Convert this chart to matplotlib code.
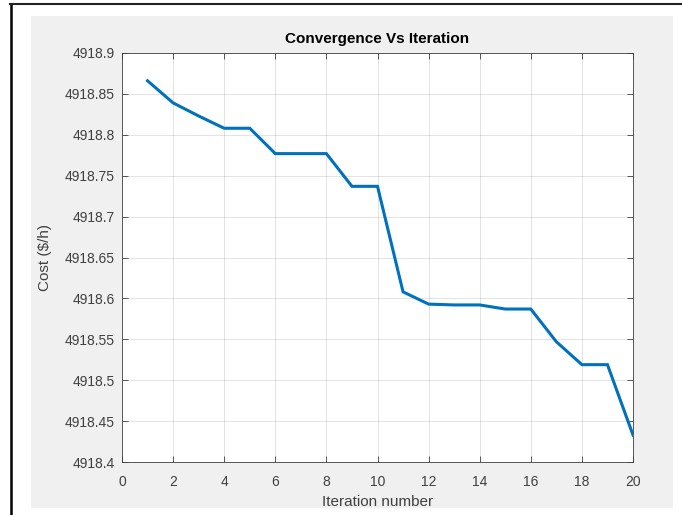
import matplotlib
matplotlib.use("Agg")
import matplotlib.pyplot as plt
from matplotlib.patches import Rectangle
from matplotlib.lines import Line2D

iterations = list(range(1, 21))
cost = [4918.866, 4918.839, 4918.823, 4918.808, 4918.808,
        4918.777, 4918.777, 4918.777, 4918.737, 4918.737,
        4918.608, 4918.593, 4918.592, 4918.592, 4918.587,
        4918.587, 4918.547, 4918.519, 4918.519, 4918.433]
xticks = [0, 2, 4, 6, 8, 10, 12, 14, 16, 18, 20]
yticks = [4918.4, 4918.45, 4918.5, 4918.55, 4918.6, 4918.65,
          4918.7, 4918.75, 4918.8, 4918.85, 4918.9]
ytick_labels = ["4918.4", "4918.45", "4918.5", "4918.55", "4918.6", "4918.65",
                "4918.7", "4918.75", "4918.8", "4918.85", "4918.9"]

plt.rcParams['font.family'] = ['Liberation Sans', 'DejaVu Sans']

W, H = 682, 515
fig = plt.figure(figsize=(W / 100, H / 100), dpi=100, facecolor='white')

# gray MATLAB figure background
fig.add_artist(Rectangle((31 / W, 1 - 508 / H), (673 - 31) / W, (508 - 16) / H,
                         transform=fig.transFigure, facecolor='#f0f0f0',
                         edgecolor='none', zorder=-10))
# black outer border lines (left and top)
fig.add_artist(Line2D([11 / W, 11 / W], [0, 1 - 3.5 / H], transform=fig.transFigure,
                      color='black', lw=1.8))
fig.add_artist(Line2D([10 / W, 1], [1 - 3.8 / H, 1 - 3.8 / H], transform=fig.transFigure,
                      color='#222222', lw=1.5))

ax = fig.add_axes([122 / W, 1 - 462 / H, (633 - 122) / W, (462 - 53) / H])
ax.set_facecolor('white')
ax.plot(iterations, cost, color='#0072BD', lw=2.2, solid_joinstyle='miter')

ax.set_xlim(0, 20)
ax.set_ylim(4918.4, 4918.9)
ax.set_xticks(xticks)
ax.set_yticks(yticks)
ax.set_yticklabels(ytick_labels)
ax.grid(True, color='#262626', alpha=0.15, lw=0.6)
ax.set_axisbelow(True)
ax.tick_params(direction='in', top=True, right=True, length=4, width=0.6,
               colors='#404040', labelsize=10, labelcolor='#404040')
ax.tick_params(axis='x', pad=9)
ax.tick_params(axis='y', pad=5)
for s in ax.spines.values():
    s.set_color('#404040')
    s.set_linewidth(0.6)

ax.set_title('Convergence Vs Iteration', fontsize=11, fontweight='bold',
             color='black', pad=7.5)
ax.set_xlabel('Iteration number', fontsize=11, color='#404040', labelpad=5)
ax.set_ylabel('Cost (\\$/h)', fontsize=11, color='#404040', labelpad=9.5)

fig.savefig('out.png', dpi=100, facecolor='white')
